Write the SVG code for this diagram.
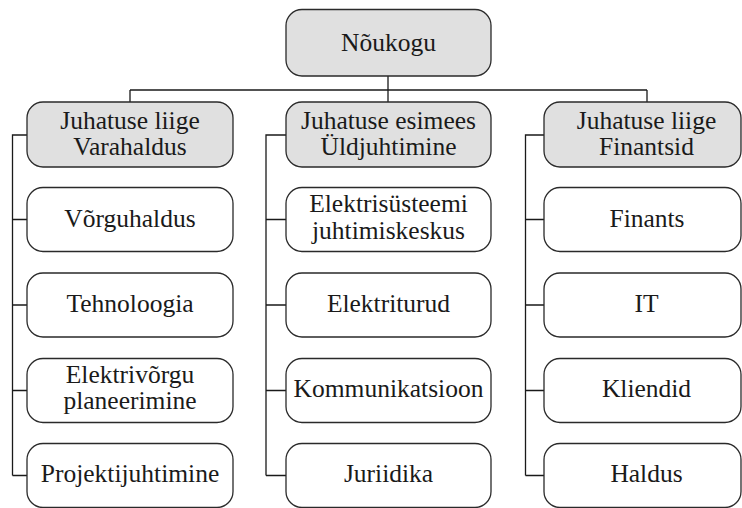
<svg xmlns="http://www.w3.org/2000/svg" width="742" height="508" viewBox="0 0 742 508">
  <style>
    .box { fill: #ffffff; stroke: #2a2a2a; stroke-width: 1.3; }
    .head { fill: #e0e0e0; stroke: #2a2a2a; stroke-width: 1.3; }
    .lbl { font-family: "Liberation Serif", "Times New Roman", serif; font-size: 25.5px; fill: #1a1a1a; text-anchor: middle; }
    .wire { fill: none; stroke: #1a1a1a; stroke-width: 1.3; }
  </style>
  <rect width="742" height="508" fill="#ffffff"/>

  <!-- connectors: board fan-out, then one bracket per column -->
  <g id="connectors" class="wire">
    <path d="M388 76 V90 M130 90 H647 M130 90 V102 M388 90 V102 M647 90 V102"/>
    <path d="M27 135 H12.5 V475.5 M12.5 219.5 H27 M12.5 305 H27 M12.5 390.5 H27 M12.5 475.5 H27"/>
    <path d="M286 135 H266 V475.5 M266 219.5 H286 M266 305 H286 M266 390.5 H286 M266 475.5 H286"/>
    <path d="M544 135 H525.5 V475.5 M525.5 219.5 H544 M525.5 305 H544 M525.5 390.5 H544 M525.5 475.5 H544"/>
  </g>

  <!-- top level -->
  <g id="noukogu">
    <rect class="head" x="286" y="9.5" width="205" height="66.5" rx="16"/>
    <text class="lbl" x="388.5" y="51">Nõukogu</text>
  </g>

  <!-- board members -->
  <g id="varahaldus">
    <rect class="head" x="27" y="102" width="206" height="65" rx="16"/>
    <text class="lbl" x="130" y="128.5">Juhatuse liige</text>
    <text class="lbl" x="130" y="154.5">Varahaldus</text>
  </g>
  <g id="yldjuhtimine">
    <rect class="head" x="286" y="102" width="205" height="65" rx="16"/>
    <text class="lbl" x="388.5" y="128.5">Juhatuse esimees</text>
    <text class="lbl" x="388.5" y="154.5">Üldjuhtimine</text>
  </g>
  <g id="finantsid">
    <rect class="head" x="544" y="102" width="197" height="65" rx="16"/>
    <text class="lbl" x="646.5" y="128.5">Juhatuse liige</text>
    <text class="lbl" x="646.5" y="154.5">Finantsid</text>
  </g>

  <!-- left column -->
  <g id="vorguhaldus">
    <rect class="box" x="27" y="187.5" width="206" height="64" rx="16"/>
    <text class="lbl" x="130" y="226.5">Võrguhaldus</text>
  </g>
  <g id="tehnoloogia">
    <rect class="box" x="27" y="273" width="206" height="64" rx="16"/>
    <text class="lbl" x="130" y="312">Tehnoloogia</text>
  </g>
  <g id="elektrivorgu">
    <rect class="box" x="27" y="358.5" width="206" height="64" rx="16"/>
    <text class="lbl" x="130" y="382.5">Elektrivõrgu</text>
    <text class="lbl" x="130" y="409">planeerimine</text>
  </g>
  <g id="projektijuhtimine">
    <rect class="box" x="27" y="443.5" width="206" height="64" rx="16"/>
    <text class="lbl" x="130" y="482">Projektijuhtimine</text>
  </g>

  <!-- middle column -->
  <g id="juhtimiskeskus">
    <rect class="box" x="286" y="187.5" width="205" height="64" rx="16"/>
    <text class="lbl" x="388.5" y="212">Elektrisüsteemi</text>
    <text class="lbl" x="388.5" y="238.5">juhtimiskeskus</text>
  </g>
  <g id="elektriturud">
    <rect class="box" x="286" y="273" width="205" height="64" rx="16"/>
    <text class="lbl" x="388.5" y="312">Elektriturud</text>
  </g>
  <g id="kommunikatsioon">
    <rect class="box" x="286" y="358.5" width="205" height="64" rx="16"/>
    <text class="lbl" x="388.5" y="397">Kommunikatsioon</text>
  </g>
  <g id="juriidika">
    <rect class="box" x="286" y="443.5" width="205" height="64" rx="16"/>
    <text class="lbl" x="388.5" y="482">Juriidika</text>
  </g>

  <!-- right column -->
  <g id="finants">
    <rect class="box" x="544" y="187.5" width="197" height="64" rx="16"/>
    <text class="lbl" x="647" y="226.5">Finants</text>
  </g>
  <g id="it">
    <rect class="box" x="544" y="273" width="197" height="64" rx="16"/>
    <text class="lbl" x="646.5" y="312">IT</text>
  </g>
  <g id="kliendid">
    <rect class="box" x="544" y="358.5" width="197" height="64" rx="16"/>
    <text class="lbl" x="646.5" y="397">Kliendid</text>
  </g>
  <g id="haldus">
    <rect class="box" x="544" y="443.5" width="197" height="64" rx="16"/>
    <text class="lbl" x="646.5" y="482">Haldus</text>
  </g>
</svg>
